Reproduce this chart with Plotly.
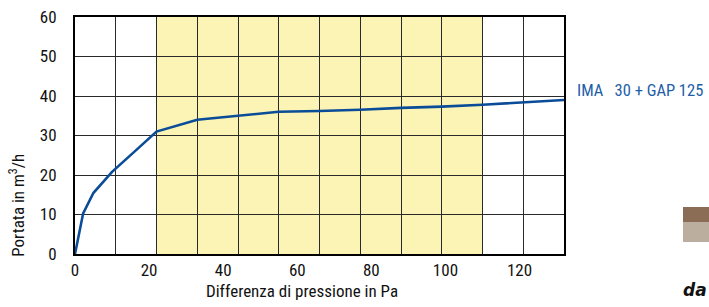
import plotly.graph_objects as go

# Data
pressure_pa = [0, 2.2, 5, 10, 16.5, 22, 33, 44, 55, 66, 77, 88, 99, 110, 121, 132]
flow_m3h = [0, 10.3, 15.5, 20.8, 26.3, 31, 34, 35, 36, 36.2, 36.5, 37, 37.3, 37.8, 38.4, 39]
series_label = "IMA\u00a0\u00a0\u00a030 + GAP 125"
x_ticks = [0, 20, 40, 60, 80, 100, 120]
y_ticks = [0, 10, 20, 30, 40, 50, 60]
highlight_range = [22, 110]
x_range = [0, 132]
y_range = [0, 60]

FONT = "Roboto Condensed, Liberation Sans Narrow, DejaVu Sans Condensed, sans-serif"

fig = go.Figure()
fig.add_trace(go.Scatter(
    x=pressure_pa, y=flow_m3h, mode="lines",
    line=dict(color="#0b4c99", width=2.6),
    showlegend=False, hoverinfo="skip", cliponaxis=False,
))

fig.add_shape(type="rect", xref="x", yref="paper",
              x0=highlight_range[0], x1=highlight_range[1], y0=0, y1=1,
              fillcolor="#fbf4b5", line=dict(width=0), layer="below")

grid_kw = dict(showgrid=True, gridcolor="#2a2a2a", gridwidth=1.4)
fig.update_xaxes(
    range=x_range, tickmode="array", tickvals=x_ticks, automargin=False,
    showgrid=False, zeroline=False,
    showline=True, linecolor="black", linewidth=2, mirror=True,
    ticks="outside", ticklen=0, ticklabelstandoff=0,
    tickfont=dict(family=FONT, size=17, color="#111"),
    minor=dict(tickmode="linear", tick0=0, dtick=11, **grid_kw),
    layer="below traces",
)
fig.update_yaxes(
    range=y_range, tickmode="array", tickvals=y_ticks, automargin=False,
    zeroline=False, **grid_kw,
    showline=True, linecolor="black", linewidth=2, mirror=True,
    ticks="outside", ticklen=0, ticklabelstandoff=13,
    tickfont=dict(family=FONT, size=17, color="#111"),
    layer="below traces",
)

fig.add_annotation(xref="paper", yref="paper", x=1.0225, y=0.688,
                   text=series_label, showarrow=False, xanchor="left", yanchor="middle",
                   font=dict(family=FONT, size=16.5, color="#1d5ea8"))
fig.add_annotation(xref="paper", yref="paper", x=0.464, y=-0.155,
                   text="Differenza di pressione in Pa", showarrow=False,
                   xanchor="center", yanchor="middle",
                   font=dict(family=FONT, size=17, color="#111"))
fig.add_annotation(xref="paper", yref="paper", x=-0.119, y=0.207,
                   text="Portata in m<sup>3</sup>/h", showarrow=False, textangle=-90,
                   xanchor="center", yanchor="middle",
                   font=dict(family=FONT, size=17, color="#111"))

# cropped neighbouring elements at bottom right
fig.add_shape(type="rect", xref="paper", yref="paper",
              x0=(683 - 75) / 489, x1=(712 - 75) / 489,
              y0=(254 - 222) / 237, y1=(254 - 207) / 237,
              fillcolor="#8b6d55", line=dict(width=0))
fig.add_shape(type="rect", xref="paper", yref="paper",
              x0=(683 - 75) / 489, x1=(712 - 75) / 489,
              y0=(254 - 242) / 237, y1=(254 - 222) / 237,
              fillcolor="#bcae9f", line=dict(width=0))
fig.add_annotation(xref="paper", yref="paper", x=(681 - 75) / 489, y=(254 - 290) / 237,
                   text="<b><i>da</i></b>", showarrow=False, xanchor="left", yanchor="middle",
                   font=dict(family="DejaVu Sans, sans-serif", size=17, color="#111"))

fig.update_layout(
    width=709, height=307,
    margin=dict(l=75, r=145, t=17, b=53),
    plot_bgcolor="white", paper_bgcolor="white",
    font=dict(family=FONT),
)

fig.write_html("out.html", config={"displayModeBar": False},
               post_script="document.body.style.margin='0';document.body.style.overflow='hidden';")
